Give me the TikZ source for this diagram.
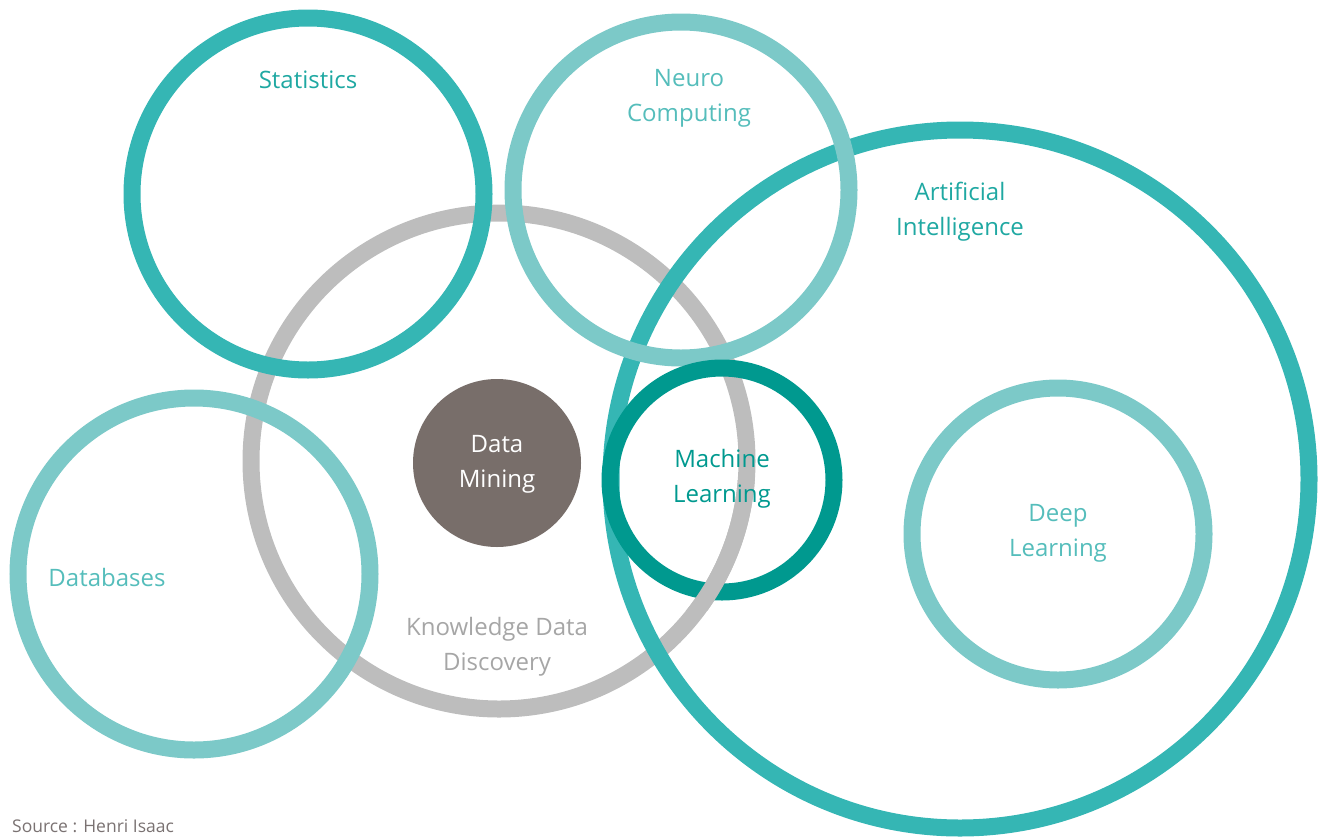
\documentclass[tikz,border=0pt]{standalone}
\usepackage{fontspec}
\setmainfont{Open Sans}
\definecolor{tealA}{HTML}{35B6B4}
\definecolor{tealL}{HTML}{7CC9C8}
\definecolor{tealD}{HTML}{00998F}
\definecolor{greyK}{HTML}{BDBDBD}
\definecolor{mineC}{HTML}{786E6A}
\definecolor{txtA}{HTML}{1FA8A2}
\definecolor{txtL}{HTML}{55BDBB}
\definecolor{txtK}{HTML}{A6A6A6}
\definecolor{srcC}{HTML}{7A7272}
\begin{document}
\begin{tikzpicture}[x=1pt,y=-1pt,
  ring/.style={draw=#1,line width=17pt,circle,inner sep=0pt},
  lbl/.style={text=#1,align=center,font=\fontsize{24}{35}\selectfont}]
\useasboundingbox (0,0) rectangle (1325,836);
% rings
\node[ring=greyK,minimum size=496pt] (kdd) at (499,461) {};
\node[ring=tealA,minimum size=698pt] (ai) at (960,479) {};
\node[ring=tealL,minimum size=336pt] (neuro) at (681,190) {};
\node[ring=tealA,minimum size=352pt] (stats) at (308,194) {};
\node[ring=tealL,minimum size=352pt] (db) at (194,574) {};
\node[ring=tealD,minimum size=224pt] (ml) at (722,480) {};
% grey ring passes over the lower part of the machine learning ring
\begin{scope}
  \clip (640,480) rectangle (850,610);
  \node[ring=greyK,minimum size=496pt] (kddtop) at (499,461) {};
\end{scope}
\node[ring=tealL,minimum size=292pt] (deep) at (1058,534) {};
\node[circle,fill=mineC,minimum size=168pt,inner sep=0pt] (dm) at (497,463) {};
% labels
\node[lbl=txtA] (tstats) at (308,80) {Statistics};
\node[lbl=txtL] (tneuro) at (689,98) {Neuro\\Computing};
\node[lbl=txtA] (tai) at (960,212) {Artificial\\Intelligence};
\node[lbl=white] (tdm) at (497,464) {Data\\Mining};
\node[lbl=tealD] (tml) at (722,479) {Machine\\Learning};
\node[lbl=txtL] (tdeep) at (1058,533) {Deep\\Learning};
\node[lbl=txtL] (tdb) at (107,577) {Databases};
\node[lbl=txtK] (tkdd) at (497,647) {Knowledge Data\\Discovery};
\node[anchor=west,text=srcC,font=\fontsize{17.5}{20}\selectfont,inner sep=0pt] (src) at (12,826) {Source : Henri Isaac};
\end{tikzpicture}
\end{document}
